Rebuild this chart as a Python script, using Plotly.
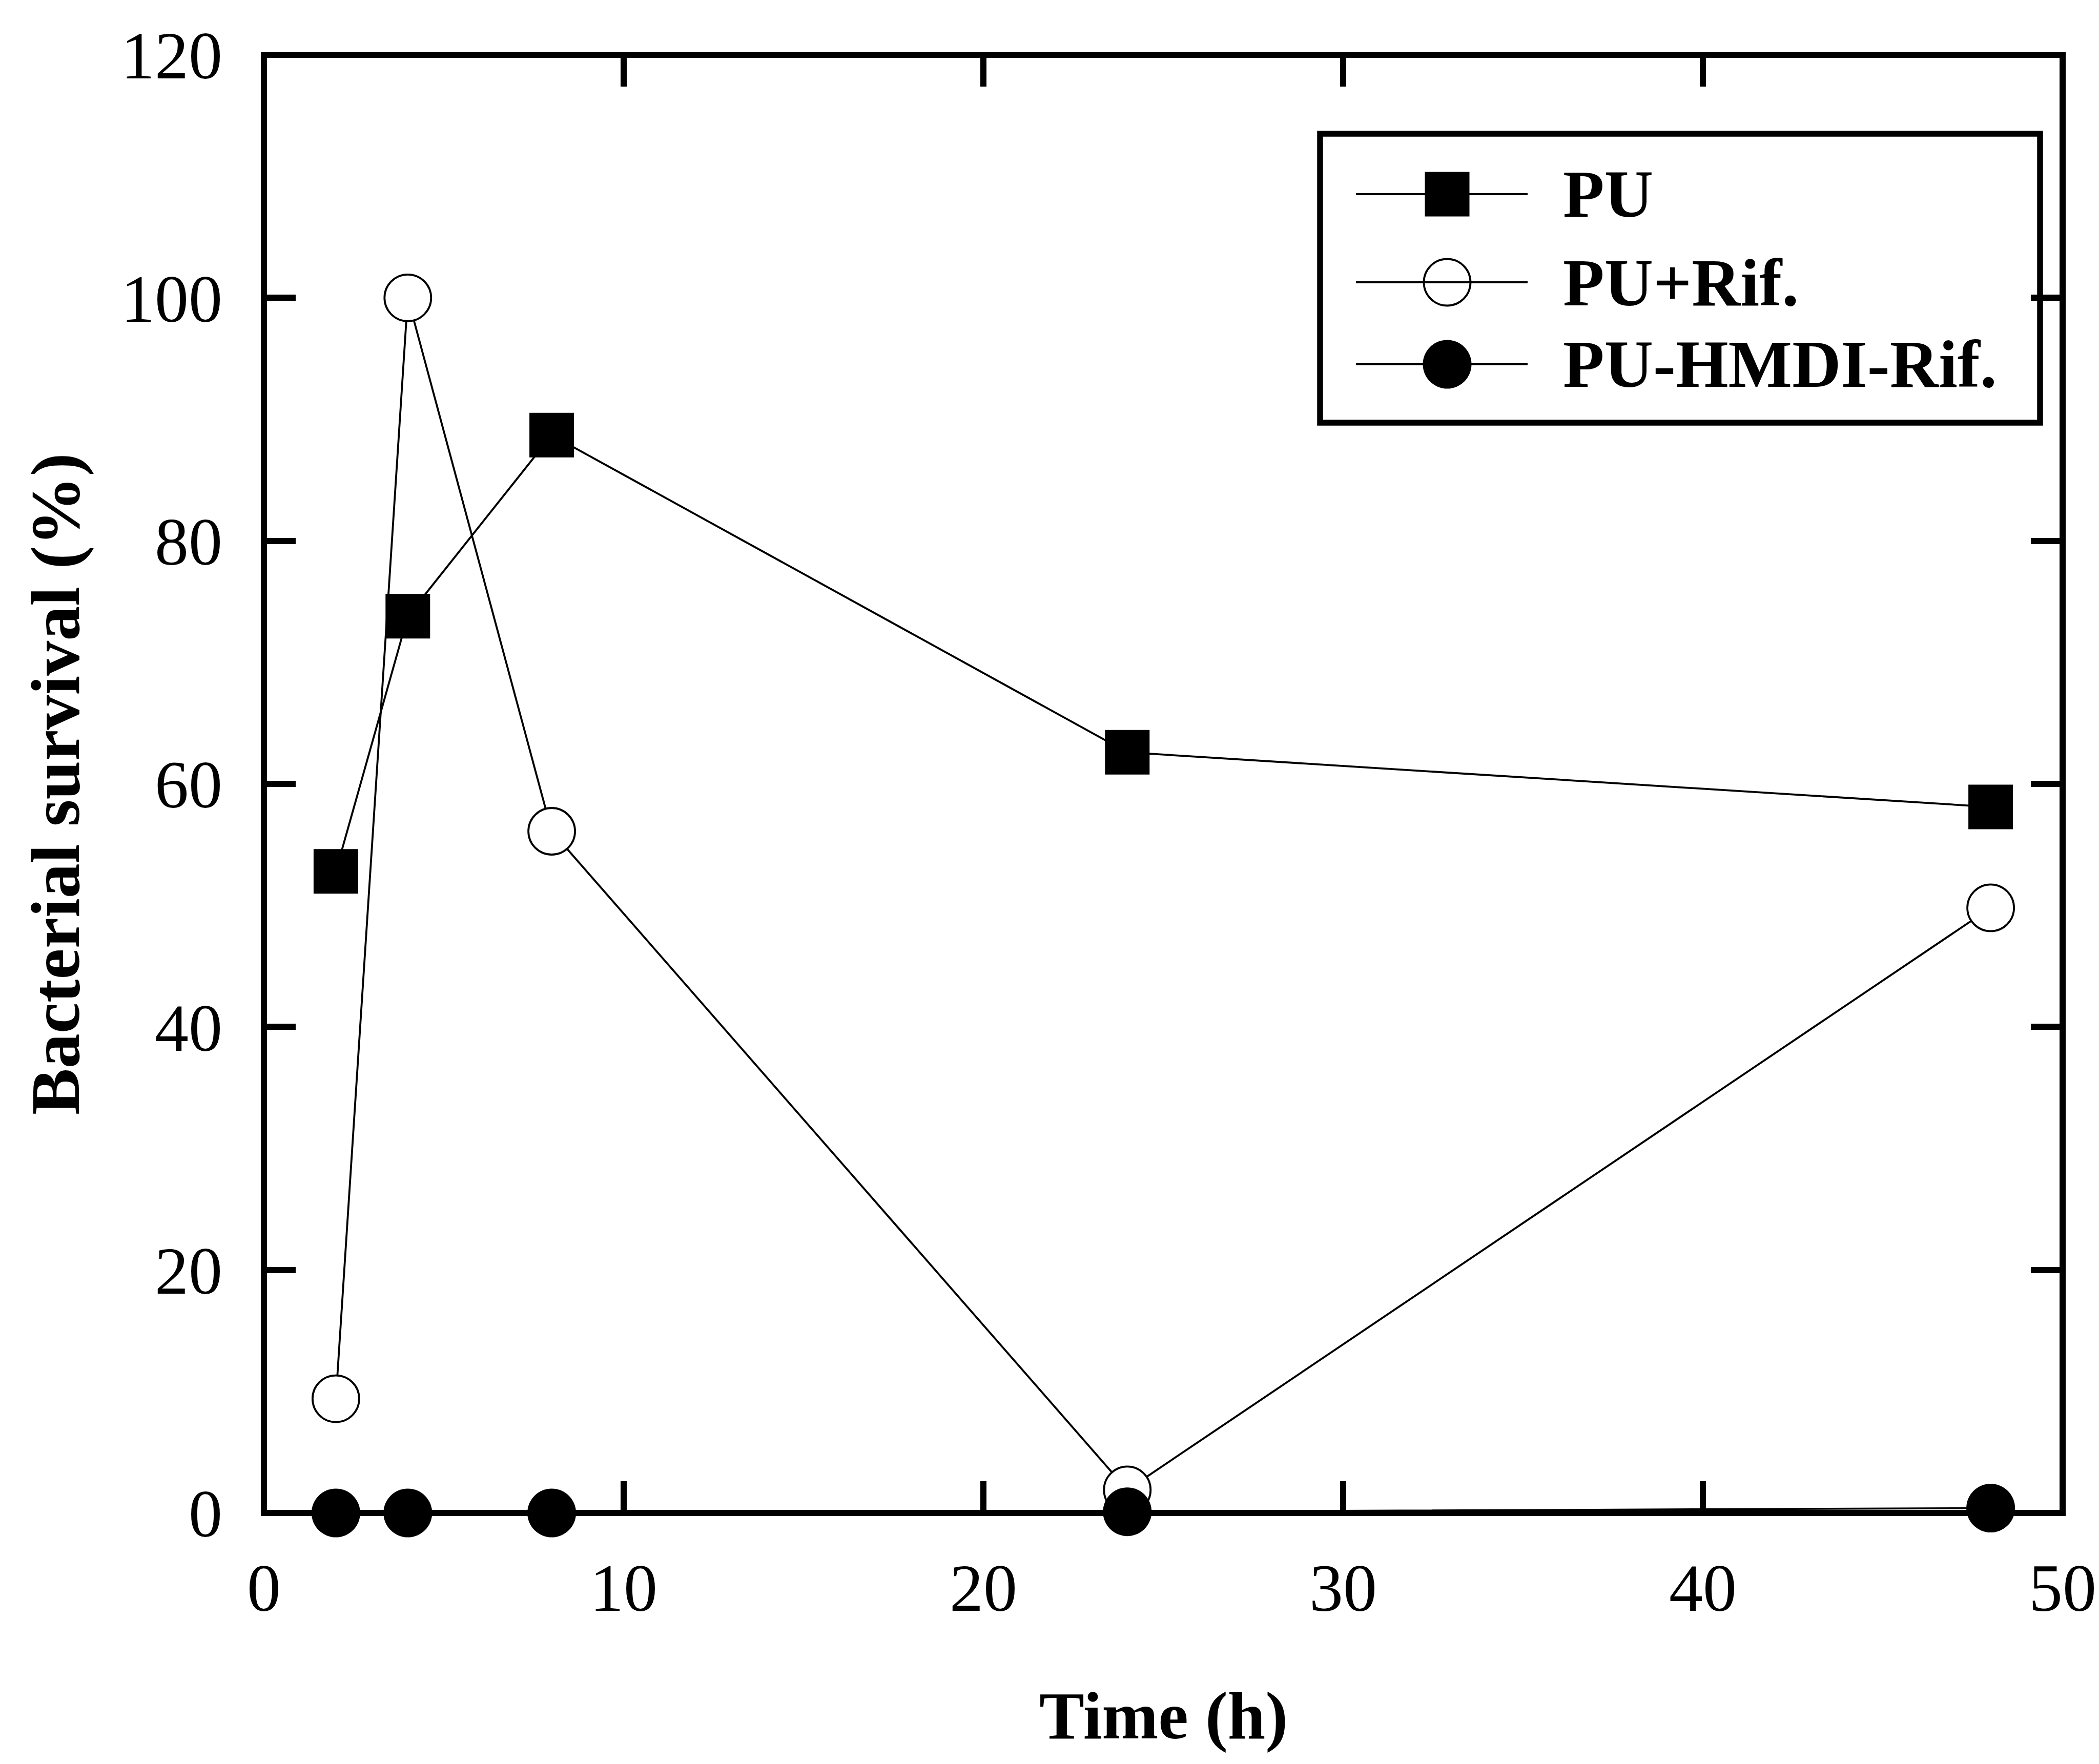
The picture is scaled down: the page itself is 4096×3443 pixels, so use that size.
import plotly.graph_objects as go

# ---- data ----
time_h = [2, 4, 8, 24, 48]
pu = [52.8, 73.8, 88.7, 62.6, 58.1]
pu_rif = [9.4, 100.0, 56.1, 1.9, 49.8]
pu_hmdi_rif = [0.0, 0.0, 0.0, 0.1, 0.4]
series_names = ["PU", "PU+Rif.", "PU-HMDI-Rif."]
x_ticks = [0, 10, 20, 30, 40, 50]
y_ticks = [0, 20, 40, 60, 80, 100, 120]

W, H = 4096, 3443
ML, MR, MT, MB = 507, 79, 99, 498
PW, PH = W - ML - MR, H - MT - MB

FONT = "Liberation Serif"
LW = 3.8

styles = [
    dict(symbol="square", size=87, color="black", line=dict(width=0)),
    dict(symbol="circle", size=91, color="white", line=dict(width=LW, color="black")),
    dict(symbol="circle", size=95, color="black", line=dict(width=0)),
]
series = [pu, pu_rif, pu_hmdi_rif]

fig = go.Figure()
for name, ys, st in zip(series_names, series, styles):
    fig.add_trace(go.Scatter(
        x=time_h, y=ys, mode="lines+markers", name=name,
        line=dict(color="black", width=LW), marker=st,
        cliponaxis=False, showlegend=False))

# ---- custom legend (paper-fraction positions inside plot area) ----
def fx(px):
    return (px - ML) / PW

def fy(py):
    return (MT + PH - py) / PH

box = dict(x0=fx(2568), x1=fx(3973), y0=fy(817), y1=fy(253))
entry_y = [fy(371), fy(543), fy(703)]
seg_x0, seg_xm, seg_x1, text_x = fx(2638), fx(2816), fx(2973), fx(3040)

shapes = []
shapes.append(dict(type="rect", xref="paper", yref="paper", **box,
                   line=dict(color="black", width=11.5), fillcolor="white", layer="below"))
for yy in entry_y:
    shapes.append(dict(type="line", xref="paper", yref="paper", x0=seg_x0, x1=seg_x1,
                       y0=yy, y1=yy, line=dict(color="black", width=LW), layer="above"))
# frame
shapes.append(dict(type="rect", xref="paper", yref="paper", x0=0, x1=1, y0=0, y1=1,
                   line=dict(color="black", width=12), layer="above"))

for name, yy, st in zip(series_names, entry_y, styles):
    fig.add_trace(go.Scatter(x=[seg_xm], y=[yy], xaxis="x2", yaxis="y2", mode="markers",
                             marker=st, cliponaxis=False, showlegend=False, hoverinfo="skip"))

annotations = []
for name, yy in zip(series_names, entry_y):
    annotations.append(dict(text=name, xref="paper", yref="paper", x=text_x, y=yy,
                            xanchor="left", yanchor="middle", showarrow=False,
                            font=dict(family=FONT, size=132, color="black", weight="bold")))
annotations.append(dict(text="Time (h)", xref="paper", yref="paper", x=0.5, y=fy(3340),
                        xanchor="center", yanchor="middle", showarrow=False,
                        font=dict(family=FONT, size=132, color="black", weight="bold")))
annotations.append(dict(text="Bacterial survival (%)", xref="paper", yref="paper",
                        x=fx(100), y=0.5, textangle=-90, xanchor="center", yanchor="middle",
                        showarrow=False,
                        font=dict(family=FONT, size=136, color="black", weight="bold")))

axis_common = dict(showgrid=False, zeroline=False, showline=False, ticks="inside",
                   ticklen=62, tickwidth=12, tickcolor="black", mirror="ticks",
                   tickfont=dict(family=FONT, size=132, color="black"))

fig.update_layout(
    width=W, height=H, autosize=False,
    margin=dict(l=ML, r=MR, t=MT, b=MB, pad=0),
    paper_bgcolor="white", plot_bgcolor="white",
    xaxis=dict(range=[0, 50], tickvals=x_ticks, ticktext=[str(v) for v in x_ticks],
               ticklabelstandoff=58, **axis_common),
    yaxis=dict(range=[0, 120], tickvals=y_ticks, ticktext=[str(v) for v in y_ticks],
               ticklabelstandoff=80, **axis_common),
    xaxis2=dict(overlaying="x", range=[0, 1], visible=False, anchor="y2"),
    yaxis2=dict(overlaying="y", range=[0, 1], visible=False, anchor="x2"),
    shapes=shapes, annotations=annotations, showlegend=False,
)

fig.write_html("out.html")
